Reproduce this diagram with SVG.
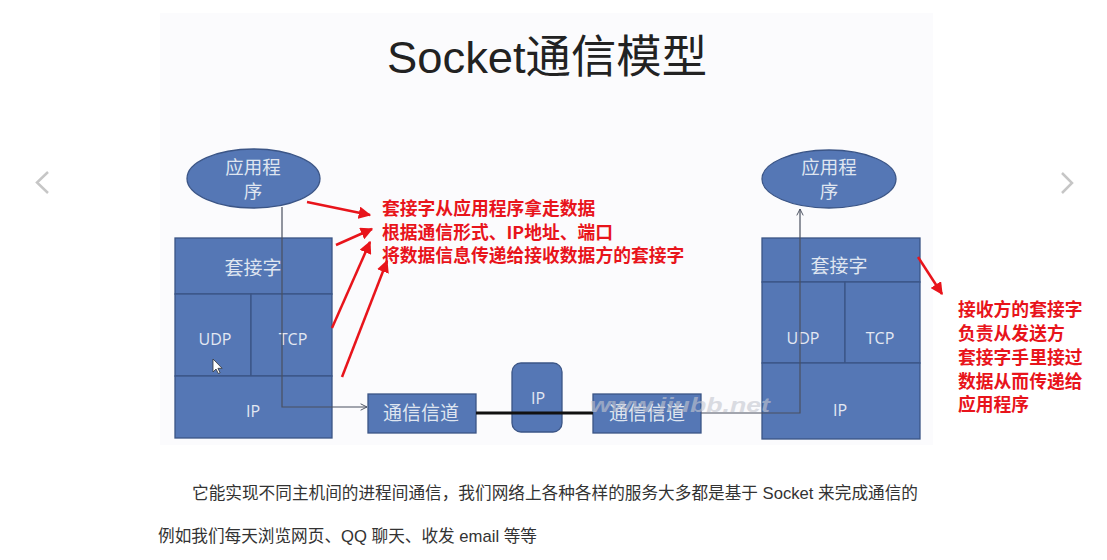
<svg xmlns="http://www.w3.org/2000/svg" width="1107" height="560" viewBox="0 0 1107 560">
<style>
.box{fill:#5577b5;stroke:#3b5586;stroke-width:1.3}
.wt{fill:#dfe5f0;font-family:"Noto Sans CJK SC","Liberation Sans",sans-serif;text-anchor:middle}
.lat{fill:#e3e8f2;font-family:"Open Sans","Liberation Sans",sans-serif;text-anchor:middle;font-size:16px}
.red{fill:#e8141b;font-family:"Noto Sans CJK SC",sans-serif;font-weight:700;font-size:17.8px}
.ra{stroke:#e8141b;stroke-width:2.5;fill:none;marker-end:url(#rh)}
.gl{stroke:#4a5060;stroke-width:1.2;fill:none}
.body{fill:#333;font-family:"Liberation Sans","Noto Sans CJK SC",sans-serif;font-size:16.6px}
.chev{stroke:#c6c6c6;stroke-width:2.5;fill:none}
</style>
<defs>
<marker id="rh" viewBox="0 0 10 10" refX="9" refY="5" markerWidth="5" markerHeight="5" orient="auto" markerUnits="strokeWidth">
<path d="M0,0 L10,5 L0,10 z" fill="#e8141b"/>
</marker>
<marker id="gh" viewBox="0 0 10 10" refX="9" refY="5" markerWidth="8" markerHeight="8" orient="auto" markerUnits="userSpaceOnUse">
<path d="M1,1 L9,5 L1,9" fill="none" stroke="#4a5060" stroke-width="1.2"/>
</marker>
</defs>
<rect x="0" y="0" width="1107" height="560" fill="#ffffff"/>
<rect x="160" y="13" width="773" height="432" fill="#fbfbfd"/>
<polyline class="chev" points="48,172 37,182.5 48,193"/>
<polyline class="chev" points="1062,173 1072,183 1062,193"/>
<text x="547" y="73" font-family="Liberation Sans,'Noto Sans CJK SC',sans-serif" font-size="45" fill="#222" text-anchor="middle" textLength="320" lengthAdjust="spacingAndGlyphs">Socket通信模型</text>

<g id="app-left">
<ellipse cx="253.5" cy="178.5" rx="66.5" ry="29.5" class="box"/>
<text class="wt" x="253" y="174" font-size="18.5">应用程</text>
<text class="wt" x="253" y="198" font-size="18.5">序</text>
</g>
<g id="stack-left">
<rect x="175" y="238" width="157" height="56" class="box"/>
<rect x="175" y="294" width="76" height="82" class="box"/>
<rect x="251" y="294" width="81" height="82" class="box"/>
<rect x="175" y="376" width="157" height="62" class="box"/>
<text class="wt" x="253" y="275" font-size="19">套接字</text>
<text class="lat" x="215" y="345">UDP</text>
<text class="lat" x="293" y="345">TCP</text>
<text class="lat" x="253" y="417">IP</text>
<path d="M213,359 l0,13 l3,-3 l2.3,4.5 l1.8,-0.8 l-2.2,-4.4 l4.2,0 z" fill="#fff" stroke="#333" stroke-width="0.8"/>
</g>
<g id="channel-left">
<rect x="368" y="394" width="108" height="39" class="box"/>
<text class="wt" x="421" y="420" font-size="19">通信信道</text>
</g>
<g id="ip-mid">
<rect x="512" y="363" width="50" height="69" rx="9" class="box"/>
<text class="lat" x="538" y="404">IP</text>
</g>
<g id="channel-right">
<rect x="593" y="394" width="108" height="39" class="box"/>
<text class="wt" x="647" y="420" font-size="19">通信信道</text>
</g>
<g id="app-right">
<ellipse cx="829" cy="179" rx="67" ry="29" class="box"/>
<text class="wt" x="829" y="174" font-size="18.5">应用程</text>
<text class="wt" x="829" y="198" font-size="18.5">序</text>
</g>
<g id="stack-right">
<rect x="762" y="238" width="158" height="44" class="box"/>
<rect x="762" y="282" width="83" height="81" class="box"/>
<rect x="845" y="282" width="75" height="81" class="box"/>
<rect x="762" y="363" width="158" height="76" class="box"/>
<text class="wt" x="839" y="273" font-size="19">套接字</text>
<text class="lat" x="803" y="344">UDP</text>
<text class="lat" x="880" y="344">TCP</text>
<text class="lat" x="840" y="416">IP</text>
</g>

<g id="connectors">
<polyline class="gl" points="282,207 282,407 367,407" marker-end="url(#gh)"/>
<line x1="476" y1="413" x2="593" y2="413" stroke="#111" stroke-width="3"/>
<polyline class="gl" points="701,413 800,413 800,209" marker-end="url(#gh)"/>
<line class="ra" x1="307" y1="202" x2="370" y2="215"/>
<line class="ra" x1="336" y1="245" x2="372" y2="229"/>
<line class="ra" x1="332" y1="328" x2="370" y2="242"/>
<line class="ra" x1="342" y1="377" x2="387" y2="261"/>
<line class="ra" x1="918" y1="257" x2="942" y2="294"/>
</g>

<text x="590" y="412" font-family="Liberation Sans,sans-serif" font-size="21" font-weight="700" font-style="italic" fill="#c4c6cf" opacity="0.6" textLength="180" lengthAdjust="spacingAndGlyphs">www.jiubb.net</text>

<g id="note-send">
<text class="red" x="382" y="215">套接字从应用程序拿走数据</text>
<text class="red" x="382" y="239">根据通信形式、IP地址、端口</text>
<text class="red" x="382" y="262">将数据信息传递给接收数据方的套接字</text>
</g>
<g id="note-recv">
<text class="red" x="958" y="316">接收方的套接字</text>
<text class="red" x="958" y="340">负责从发送方</text>
<text class="red" x="958" y="364">套接字手里接过</text>
<text class="red" x="958" y="388">数据从而传递给</text>
<text class="red" x="958" y="411">应用程序</text>
</g>

<text class="body" x="192" y="499" textLength="726" lengthAdjust="spacingAndGlyphs">它能实现不同主机间的进程间通信，我们网络上各种各样的服务大多都是基于 Socket 来完成通信的</text>
<text class="body" x="158" y="542" textLength="379" lengthAdjust="spacingAndGlyphs">例如我们每天浏览网页、QQ 聊天、收发 email 等等</text>
</svg>
